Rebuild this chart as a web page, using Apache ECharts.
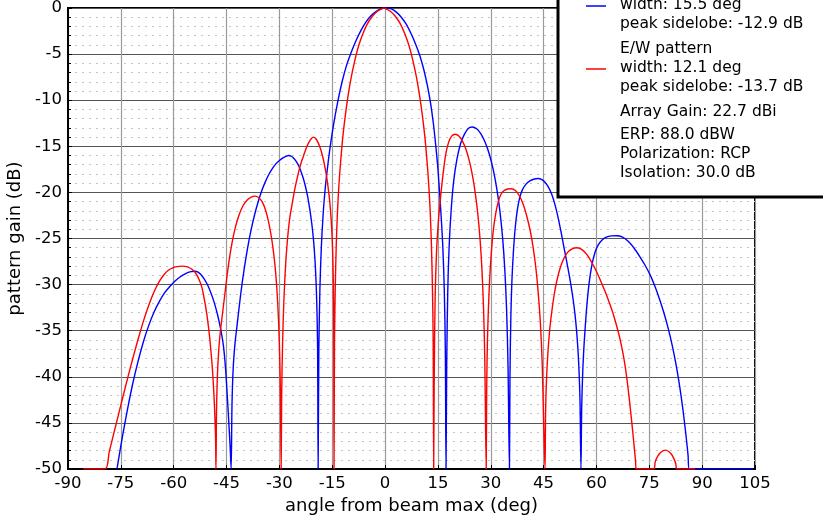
<!DOCTYPE html>
<html>
<head>
<meta charset="utf-8">
<script src="https://cdn.jsdelivr.net/npm/echarts@6/dist/echarts.min.js"></script>
<style>
  html, body { margin: 0; padding: 0; background: #ffffff; }
  #chart { width: 823px; height: 516px; }
</style>
</head>
<body>
<div id="chart"></div>
<script>
// Axis ticks
const angleTicks = [-90, -75, -60, -45, -30, -15, 0, 15, 30, 45, 60, 75, 90, 105];
const gainTicks = [0, -5, -10, -15, -20, -25, -30, -35, -40, -45, -50];

// N/S pattern (blue): [angle deg, gain dB], floored at -50 dB
const nsPattern = [
  [-76.1, -50], [-74.6, -46.6], [-73.1, -43.5], [-71.6, -40.7], [-70.1, -38.3], [-68.6, -36.2],
  [-67.1, -34.45], [-65.6, -33.0], [-64.1, -31.85], [-62.6, -30.9], [-61.1, -30.2], [-59.6, -29.6],
  [-58.1, -29.15], [-56.6, -28.8], [-55.1, -28.6], [-53.9, -28.55], [-53.1, -28.65], [-52.3, -28.9],
  [-51.5, -29.3], [-50.7, -29.8], [-49.9, -30.45], [-49.1, -31.25], [-48.3, -32.2], [-47.5, -33.35],
  [-46.7, -34.75], [-45.9, -36.6], [-45.3, -39.0], [-44.8, -42.0], [-44.3, -45.3], [-43.95, -47.8],
  [-43.7, -50],
  [-43.45, -43.0], [-43.1, -39.0], [-42.6, -36.4], [-42.0, -34.4], [-41.0, -31.1], [-40.0, -28.33],
  [-39.0, -25.99], [-38.0, -24.02], [-37.0, -22.37], [-36.0, -20.99], [-35.0, -19.82], [-34.0, -18.86],
  [-33.0, -18.06], [-32.0, -17.42], [-31.0, -16.91], [-30.0, -16.53], [-29.0, -16.25], [-28.0, -16.07],
  [-27.4, -16.0], [-26.6, -16.08], [-25.8, -16.35], [-25.0, -16.78], [-24.2, -17.4], [-23.4, -18.25],
  [-22.7, -19.2], [-22.0, -20.4], [-21.4, -21.75], [-20.8, -23.4], [-20.3, -25.2], [-19.9, -27.3],
  [-19.6, -29.6], [-19.35, -32.6], [-19.15, -37.0], [-19.0, -50],
  [-18.8, -37.0], [-18.5, -30.5], [-18.1, -26.0], [-17.6, -22.5], [-17.0, -19.6], [-16.3, -17.2],
  [-15.6, -15.1], [-14.6, -12.6], [-13.4, -10.1], [-12.2, -8.0], [-11.0, -6.3], [-9.6, -4.8],
  [-8.2, -3.5], [-6.8, -2.4], [-5.4, -1.5], [-4.0, -0.85], [-2.6, -0.4], [-1.2, -0.1], [0.3, 0],
  [1.8, -0.1], [3.2, -0.45], [4.6, -1.0], [6.0, -1.75], [7.4, -2.8], [8.7, -3.95], [9.9, -5.2],
  [11.0, -6.7], [12.0, -8.4], [12.9, -10.3], [13.7, -12.5], [14.3, -14.6], [14.9, -17.0],
  [15.4, -19.6], [15.9, -22.5], [16.4, -26.0], [16.8, -30.5], [17.1, -37.0], [17.3, -50],
  [17.5, -38.4], [17.8, -30.6], [18.2, -25.7], [18.8, -21.7], [19.5, -18.7], [20.4, -16.4],
  [21.4, -14.75], [22.5, -13.7], [23.6, -13.07], [24.7, -12.9], [26.0, -13.1], [27.2, -13.65],
  [28.4, -14.56], [29.6, -15.86], [30.7, -17.54], [31.7, -19.6], [32.6, -22.05], [33.4, -25.1],
  [34.0, -28.5], [34.5, -32.8], [34.9, -38.9], [35.3, -50],
  [35.45, -40.0], [35.7, -33.5], [36.0, -29.6], [36.4, -26.6], [36.9, -24.0], [37.5, -22.0],
  [38.2, -20.6], [39.0, -19.7], [40.0, -19.1], [41.1, -18.75], [42.2, -18.57], [43.4, -18.5],
  [44.4, -18.6], [45.4, -18.9], [46.4, -19.45], [47.3, -20.2], [48.2, -21.3], [49.1, -22.7],
  [50.0, -24.4], [50.9, -26.2], [51.8, -28.0], [52.6, -29.7], [53.3, -31.4], [53.9, -33.2],
  [54.4, -35.2], [54.8, -37.4], [55.1, -39.8], [55.35, -43.0], [55.6, -50],
  [55.8, -43.5], [56.1, -39.5], [56.5, -36.4], [57.0, -33.6], [57.5, -31.3], [58.1, -29.3],
  [58.8, -27.7], [59.6, -26.5], [60.5, -25.7], [61.6, -25.15], [62.8, -24.85], [64.2, -24.72],
  [65.8, -24.7], [67.4, -24.85], [69.0, -25.3], [70.6, -26.0], [72.2, -26.9], [73.8, -27.9],
  [75.3, -29.0], [76.7, -30.3], [78.0, -31.7], [79.2, -33.13], [80.4, -34.8], [81.5, -36.59],
  [82.5, -38.5], [83.4, -40.5], [84.2, -42.58], [84.9, -44.66], [85.5, -46.66], [86.0, -48.52],
  [86.35, -50], [104.5, -50]
];

// E/W pattern (red): [angle deg, gain dB], floored at -50 dB
const ewPattern = [
  [-85.7, -50], [-79.5, -50], [-78.3, -48.15], [-77.1, -46.3], [-75.9, -44.45], [-74.7, -42.6],
  [-73.5, -40.8], [-72.3, -39.0], [-71.1, -37.3], [-69.9, -35.65], [-68.7, -34.1], [-67.5, -32.7],
  [-66.3, -31.45], [-65.1, -30.4], [-63.9, -29.55], [-62.7, -28.9], [-61.5, -28.45], [-60.3, -28.18],
  [-59.1, -28.05], [-57.4, -28.0], [-56.4, -28.05], [-55.4, -28.2], [-54.5, -28.45], [-53.6, -28.85],
  [-52.8, -29.45], [-52.0, -30.3], [-51.3, -31.6], [-50.6, -33.2], [-50.0, -35.0], [-49.5, -36.9],
  [-49.0, -39.2], [-48.6, -41.8], [-48.3, -44.4], [-48.1, -47.0], [-48.0, -50],
  [-47.85, -44.0], [-47.6, -40.0], [-47.2, -37.0], [-46.7, -34.9], [-46.1, -33.0], [-45.5, -31.1],
  [-44.9, -29.2], [-44.2, -27.2], [-43.4, -25.4], [-42.5, -23.8], [-41.5, -22.5], [-40.4, -21.5],
  [-39.2, -20.85], [-38.0, -20.5], [-36.9, -20.4], [-35.9, -20.55], [-35.0, -20.95], [-34.2, -21.6],
  [-33.5, -22.5], [-32.8, -23.7], [-32.2, -25.0], [-31.7, -26.4], [-31.2, -28.1], [-30.8, -30.0],
  [-30.45, -32.2], [-30.15, -34.8], [-29.9, -38.0], [-29.7, -42.0], [-29.5, -50],
  [-29.35, -42.0], [-29.1, -36.5], [-28.75, -32.0], [-28.3, -28.3], [-27.75, -25.3], [-27.1, -22.9],
  [-26.4, -21.3], [-25.6, -19.6], [-24.8, -18.2], [-24.0, -17.0], [-23.2, -16.1], [-22.4, -15.2],
  [-21.6, -14.55], [-20.9, -14.15], [-20.35, -14.0], [-19.7, -14.15], [-19.0, -14.6], [-18.3, -15.3],
  [-17.6, -16.3], [-17.0, -17.4], [-16.4, -18.8], [-15.9, -20.3], [-15.5, -21.9], [-15.15, -23.9],
  [-14.9, -26.2], [-14.7, -29.5], [-14.58, -34.0], [-14.5, -50],
  [-14.35, -36.0], [-14.15, -30.5], [-13.85, -25.6], [-13.5, -22.0], [-13.1, -19.2], [-12.6, -16.6],
  [-12.0, -14.0], [-11.3, -11.7], [-10.5, -9.5], [-9.6, -7.5], [-8.6, -5.7], [-7.5, -4.1],
  [-6.3, -2.8], [-5.0, -1.7], [-3.6, -0.9], [-2.2, -0.35], [-0.8, -0.05], [-0.35, 0],
  [0.1, -0.05], [1.5, -0.35], [2.9, -0.9], [4.3, -1.7], [5.6, -2.8], [6.8, -4.1], [7.9, -5.7],
  [8.9, -7.5], [9.8, -9.5], [10.6, -11.7], [11.3, -14.0], [11.9, -16.6], [12.4, -19.2],
  [12.8, -22.0], [13.15, -25.6], [13.45, -30.5], [13.65, -36.0], [13.8, -50],
  [13.95, -40.0], [14.2, -31.7], [14.6, -26.5], [15.1, -23.3], [15.7, -20.7], [16.4, -18.2],
  [17.2, -15.9], [18.0, -14.6], [18.9, -13.9], [19.9, -13.7], [21.0, -13.9], [22.0, -14.47],
  [23.0, -15.38], [24.0, -16.72], [24.9, -18.37], [25.7, -20.38], [26.4, -22.63], [27.0, -25.3],
  [27.5, -28.4], [27.95, -32.6], [28.3, -38.1], [28.7, -50],
  [28.85, -41.0], [29.05, -36.2], [29.35, -32.4], [29.7, -29.3], [30.15, -26.6], [30.7, -24.2],
  [31.35, -22.4], [32.1, -21.05], [32.9, -20.2], [33.8, -19.8], [34.8, -19.63], [35.8, -19.6],
  [37.0, -19.8], [38.2, -20.42], [39.3, -21.4], [40.3, -22.7], [41.2, -24.16], [42.0, -25.9],
  [42.8, -28.2], [43.5, -31.0], [44.1, -34.3], [44.6, -38.6], [45.0, -44.8], [45.4, -50],
  [45.55, -44.0], [45.8, -40.5], [46.2, -37.5], [46.7, -35.0], [47.3, -33.0], [48.0, -31.1],
  [48.8, -29.5], [49.7, -28.2], [50.7, -27.2], [51.8, -26.5], [53.1, -26.12], [54.5, -26.0],
  [55.9, -26.2], [57.3, -26.75], [58.6, -27.55], [59.9, -28.5], [61.2, -29.6], [62.4, -30.7],
  [63.5, -31.8], [64.6, -33.0], [65.6, -34.3], [66.5, -35.6], [67.3, -37.0], [68.0, -38.5],
  [68.6, -40.1], [69.2, -42.0], [69.7, -43.75], [70.2, -45.6], [70.65, -47.35], [71.1, -49.15],
  [71.3, -50],
  [76.2, -50], [76.7, -49.2], [77.4, -48.6], [78.2, -48.2], [79.0, -48.0], [79.7, -47.95],
  [80.5, -48.1], [81.3, -48.4], [82.0, -48.9], [82.5, -49.4], [82.9, -50], [88.0, -50]
];

// Legend / annotation text
const nsLegend = ['width: 15.5 deg', 'peak sidelobe: -12.9 dB'];
const ewLegend = ['E/W pattern', 'width: 12.1 deg', 'peak sidelobe: -13.7 dB'];
const infoLines = ['Array Gain: 22.7 dBi', 'ERP: 88.0 dBW', 'Polarization: RCP', 'Isolation: 30.0 dB'];

const FONT = 'DejaVu Sans';
const chart = echarts.init(document.getElementById('chart'), null, { renderer: 'canvas' });

// Legend box (runs off the top-right corner of the figure)
const graphics = [
  { type: 'rect', z: 100, shape: { x: 558, y: -10, width: 300, height: 207 },
    style: { fill: '#ffffff', stroke: '#000000', lineWidth: 3 } },
  { type: 'line', z: 110, shape: { x1: 586, y1: 6, x2: 606, y2: 6 },
    style: { stroke: '#0000ff', lineWidth: 1.5 } },
  { type: 'line', z: 110, shape: { x1: 586, y1: 69, x2: 606, y2: 69 },
    style: { stroke: '#ff0000', lineWidth: 1.5 } }
];
const legendRows = [
  [nsLegend[0], 5], [nsLegend[1], 24],
  [ewLegend[0], 49], [ewLegend[1], 68], [ewLegend[2], 87],
  [infoLines[0], 112], [infoLines[1], 135], [infoLines[2], 154], [infoLines[3], 173]
];
legendRows.forEach(([t, y]) => {
  graphics.push({
    type: 'text', z: 110, x: 620, y: y,
    style: { text: t, font: '15.5px "DejaVu Sans"', fill: '#000', verticalAlign: 'middle', align: 'left' }
  });
});

chart.setOption({
  animation: false,
  backgroundColor: '#ffffff',
  grid: { left: 68, right: 68, top: 8, bottom: 47, containLabel: false, outerBoundsMode: 'none',
    show: true, borderColor: '#000', borderWidth: 2, backgroundColor: 'transparent' },
  xAxis: {
    type: 'value', min: -90, max: 105, interval: 15,
    name: 'angle from beam max (deg)', nameLocation: 'middle', nameGap: 26,
    nameTextStyle: { fontFamily: FONT, fontSize: 18, color: '#000' },
    axisLine: { show: true, onZero: false, lineStyle: { color: '#000', width: 2 } },
    axisTick: { show: true, inside: true, length: 4, lineStyle: { color: '#000' } },
    axisLabel: { fontFamily: FONT, fontSize: 16.5, color: '#000', margin: 6,
      formatter: v => angleTicks.includes(v) ? String(v) : '' },
    splitLine: { show: true, lineStyle: { color: '#9a9a9a', width: 1.2 } }
  },
  yAxis: {
    type: 'value', min: -50, max: 0, interval: 5,
    name: 'pattern gain (dB)', nameLocation: 'middle', nameGap: 44, nameRotate: 90,
    nameTextStyle: { fontFamily: FONT, fontSize: 18, color: '#000' },
    axisLine: { show: true, onZero: false, lineStyle: { color: '#000', width: 2 } },
    axisTick: { show: true, inside: true, length: 4, lineStyle: { color: '#000' } },
    minorTick: { show: true, splitNumber: 5, length: 3, lineStyle: { color: '#000' } },
    axisLabel: { fontFamily: FONT, fontSize: 16.5, color: '#000', margin: 6,
      formatter: v => gainTicks.includes(v) ? String(v) : '' },
    splitLine: { show: true, lineStyle: { color: '#555555', width: 1.2 } },
    minorSplitLine: { show: true, lineStyle: { color: '#c4c4c4', width: 1, type: [2, 5] } }
  },
  series: [
    { name: 'N/S pattern', type: 'line', data: nsPattern, showSymbol: false,
      smooth: 0.3, clip: true, lineStyle: { color: '#0000ff', width: 1.4 }, z: 5 },
    { name: 'E/W pattern', type: 'line', data: ewPattern, showSymbol: false,
      smooth: 0.3, clip: true, lineStyle: { color: '#ff0000', width: 1.4 }, z: 6 }
  ],
  graphic: graphics
});
</script>
</body>
</html>
